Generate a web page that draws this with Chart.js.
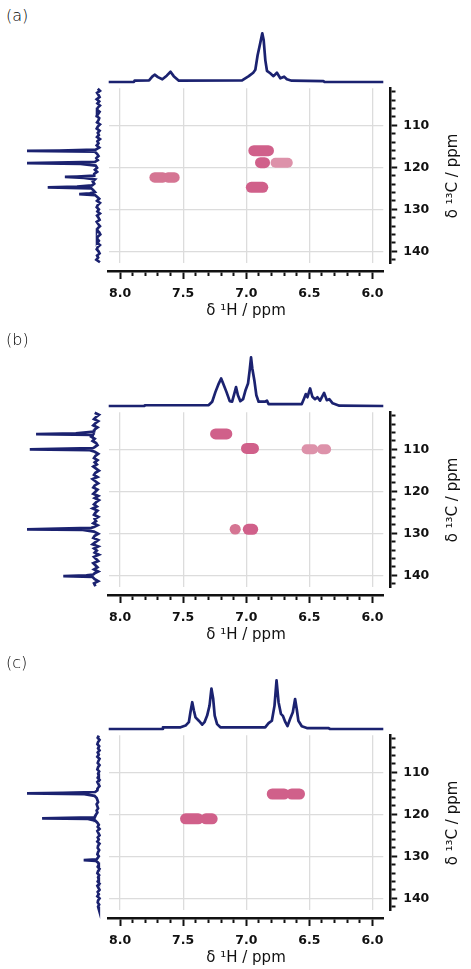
<!DOCTYPE html>
<html><head><meta charset="utf-8">
<script src="https://cdn.jsdelivr.net/npm/chart.js@4.4.1/dist/chart.umd.min.js"></script>
<style>
html,body{margin:0;padding:0;background:#fff;}
body{width:471px;height:969px;position:relative;overflow:hidden;font-family:'DejaVu Sans',sans-serif;color:#111;}
canvas{position:absolute;}
.plab{position:absolute;left:6px;font-size:16px;font-weight:200;line-height:20px;white-space:nowrap;color:#000;}
.ytitle{position:absolute;width:130px;height:20px;line-height:20px;font-size:15px;text-align:center;white-space:nowrap;transform:rotate(-90deg);transform-origin:50% 50%;color:#111;}
</style></head><body>
<script>
// ---------- panel labels ----------
const panelNames = ['(a)', '(b)', '(c)'];
const panelOffsets = [0, 324, 647];

// ---------- axis ranges and tick labels ----------
const hRange = [5.914, 8.09];
const cRange = [101.2, 142.8];
const hTickValues = [8.0, 7.5, 7.0, 6.5, 6.0];
const hTickLabels = ['8.0', '7.5', '7.0', '6.5', '6.0'];
const cTickValues = [110, 120, 130, 140];
const cTickLabels = ['110', '120', '130', '140'];
const hTitle = 'δ ¹H / ppm';
const cTitle = 'δ ¹³C / ppm';

// ---------- 1H projections (top): ppm and relative intensity ----------
const protonPpmA = [8.09, 7.89, 7.885, 7.77, 7.745, 7.726, 7.70, 7.665, 7.63, 7.60, 7.575, 7.534, 7.033, 6.98, 6.945, 6.928, 6.91, 6.889, 6.873, 6.862, 6.849, 6.836, 6.81, 6.784, 6.757, 6.73, 6.70, 6.678, 6.64, 6.389, 6.38, 5.914];
const protonIntA = [0.0, 0.0, 0.027, 0.035, 0.11, 0.15, 0.10, 0.055, 0.13, 0.21, 0.12, 0.027, 0.035, 0.12, 0.19, 0.25, 0.55, 0.80, 1.0, 0.86, 0.45, 0.23, 0.18, 0.12, 0.19, 0.076, 0.11, 0.055, 0.027, 0.02, 0.0, 0.0];

const protonPpmB = [8.09, 7.81, 7.80, 7.297, 7.27, 7.244, 7.218, 7.199, 7.183, 7.157, 7.131, 7.112, 7.094, 7.081, 7.066, 7.047, 7.025, 7.005, 6.986, 6.973, 6.962, 6.952, 6.936, 6.92, 6.902, 6.85, 6.836, 6.823, 6.56, 6.541, 6.528, 6.515, 6.494, 6.476, 6.455, 6.436, 6.415, 6.383, 6.362, 6.342, 6.315, 6.262, 5.914];
const protonIntB = [0.0, 0.0, 0.015, 0.02, 0.088, 0.29, 0.46, 0.565, 0.46, 0.29, 0.10, 0.088, 0.26, 0.39, 0.22, 0.10, 0.14, 0.33, 0.46, 0.73, 1.0, 0.77, 0.53, 0.22, 0.088, 0.088, 0.11, 0.04, 0.04, 0.16, 0.245, 0.18, 0.36, 0.19, 0.14, 0.18, 0.11, 0.27, 0.12, 0.14, 0.055, 0.006, 0.0];

const protonPpmC = [8.09, 7.665, 7.66, 7.52, 7.481, 7.455, 7.442, 7.428, 7.415, 7.402, 7.376, 7.349, 7.331, 7.31, 7.291, 7.276, 7.262, 7.25, 7.231, 7.205, 6.85, 6.823, 6.797, 6.776, 6.76, 6.744, 6.725, 6.71, 6.69, 6.673, 6.652, 6.631, 6.613, 6.6, 6.587, 6.56, 6.52, 6.35, 6.336, 5.914];
const protonIntC = [0.0, 0.0, 0.035, 0.035, 0.07, 0.14, 0.35, 0.55, 0.38, 0.24, 0.17, 0.09, 0.14, 0.275, 0.48, 0.83, 0.62, 0.275, 0.10, 0.035, 0.035, 0.12, 0.17, 0.48, 1.0, 0.55, 0.31, 0.27, 0.14, 0.06, 0.21, 0.345, 0.615, 0.41, 0.17, 0.055, 0.02, 0.02, 0.0, 0.0];

// ---------- 13C projections (left): [ppm, relative intensity] ----------
const carbonSpecA = [[101.3,0.01],[101.8,-0.02],[102.3,0.02],[102.8,0.0],[103.3,-0.015],[103.8,0.025],[104.3,-0.01],[104.8,0.015],[105.3,-0.02],[105.8,0.01],[106.3,0.02],[106.8,-0.015],[107.3,0.005],[107.8,0.025],[108.3,-0.01],[108.8,0.0],[109.3,0.02],[109.8,-0.02],[110.3,0.01],[110.8,0.025],[111.3,-0.015],[111.8,0.01],[112.3,-0.005],[112.8,0.02],[113.3,-0.02],[113.8,0.015],[114.3,0.0],[114.8,0.025],[115.3,-0.01],[115.8,0.04],[116.0,0.55],[116.1,1.0],[116.3,0.05],[116.8,0.02],[117.3,0.0],[117.8,0.03],[118.3,0.01],[118.7,0.05],[118.9,0.6],[119.0,1.0],[119.2,0.25],[119.6,0.04],[120.1,0.02],[120.6,0.05],[121.1,0.02],[121.6,0.06],[122.0,0.06],[122.2,0.3],[122.3,0.47],[122.5,0.2],[122.9,0.05],[123.4,0.08],[123.9,0.06],[124.3,0.09],[124.6,0.3],[124.8,0.71],[125.0,0.1],[125.5,0.07],[125.9,0.05],[126.2,0.12],[126.4,0.27],[126.6,0.05],[127.0,0.02],[127.5,-0.01],[128.0,0.02],[128.5,-0.02],[129.0,0.01],[129.5,0.025],[130.0,-0.005],[130.5,0.015],[131.0,-0.02],[131.5,0.02],[132.0,0.0],[132.5,-0.015],[133.0,0.025],[133.5,0.005],[134.0,-0.02],[134.5,0.01],[135.0,0.02],[135.5,-0.01],[136.0,-0.025],[136.5,0.01],[137.0,0.02],[137.5,-0.005],[138.0,0.015],[138.5,-0.02],[139.0,0.01],[139.5,0.025],[140.0,0.0],[140.5,-0.015],[141.0,0.02],[141.5,0.005],[142.0,0.03],[142.6,-0.02]];

const carbonSpecB = [[101.3,0.03],[101.8,-0.03],[102.3,0.01],[102.8,0.04],[103.3,-0.02],[103.8,0.02],[104.3,0.05],[104.8,-0.01],[105.3,0.03],[105.8,0.04],[106.2,0.3],[106.4,0.87],[106.6,0.06],[107.0,0.08],[107.5,0.03],[108.0,0.06],[108.5,0.01],[109.0,-0.01],[109.5,0.03],[109.7,0.05],[109.9,0.6],[110.0,0.96],[110.2,0.1],[110.6,0.03],[111.1,-0.02],[111.6,0.02],[112.1,0.04],[112.6,-0.01],[113.1,0.03],[113.6,0.0],[114.1,0.05],[114.6,0.01],[115.1,-0.03],[115.6,0.02],[116.1,0.04],[116.6,-0.01],[117.1,0.06],[117.6,0.02],[118.1,-0.02],[118.6,0.03],[119.1,0.05],[119.6,-0.01],[120.1,0.02],[120.6,0.05],[121.1,-0.02],[121.6,0.03],[122.1,-0.03],[122.6,0.01],[123.1,0.04],[123.6,0.0],[124.1,0.06],[124.6,-0.01],[125.1,0.02],[125.6,0.04],[126.1,-0.02],[126.6,0.03],[127.1,0.01],[127.6,0.05],[128.1,-0.01],[128.5,0.04],[128.7,0.08],[128.9,0.55],[129.05,1.0],[129.2,0.2],[129.6,0.04],[130.1,-0.02],[130.6,0.03],[131.1,0.05],[131.6,-0.02],[132.1,0.02],[132.6,0.06],[133.1,-0.02],[133.6,0.04],[134.1,0.0],[134.6,0.03],[135.1,-0.03],[135.6,0.04],[136.1,0.01],[136.6,-0.02],[137.1,0.05],[137.6,0.02],[138.1,-0.01],[138.6,0.04],[139.1,-0.02],[139.5,0.03],[139.8,0.05],[140.0,0.15],[140.2,0.48],[140.4,0.06],[140.9,0.03],[141.4,-0.02],[141.9,0.04],[142.6,0.02]];

const carbonSpecC = [[101.3,0.0],[101.8,0.015],[102.3,-0.01],[102.8,0.01],[103.3,0.02],[103.8,-0.005],[104.3,0.01],[104.8,-0.01],[105.3,0.015],[105.8,0.0],[106.3,0.02],[106.8,-0.01],[107.3,0.005],[107.8,0.015],[108.3,-0.01],[108.8,0.01],[109.3,0.02],[109.8,-0.005],[110.3,0.01],[110.8,0.0],[111.3,0.015],[111.8,-0.01],[112.3,0.02],[112.8,0.005],[113.3,-0.01],[113.8,0.015],[114.3,0.02],[114.7,0.05],[114.9,0.5],[115.0,1.0],[115.2,0.2],[115.6,0.06],[116.1,0.03],[116.6,0.02],[117.1,0.01],[117.6,0.03],[118.1,0.02],[118.6,0.01],[119.1,0.03],[119.6,0.02],[120.1,0.04],[120.5,0.05],[120.7,0.06],[120.85,0.45],[120.95,0.79],[121.1,0.15],[121.5,0.05],[122.0,0.02],[122.5,0.0],[123.0,0.015],[123.5,-0.01],[124.0,0.02],[124.5,0.005],[125.0,-0.01],[125.5,0.015],[126.0,0.0],[126.5,0.02],[127.0,-0.01],[127.5,0.01],[128.0,0.015],[128.5,-0.005],[129.0,0.01],[129.5,0.02],[130.0,0.0],[130.5,0.02],[130.7,0.03],[130.9,0.21],[131.1,0.04],[131.5,0.01],[132.0,0.0],[132.5,0.015],[133.0,-0.01],[133.5,0.01],[134.0,0.02],[134.5,-0.005],[135.0,0.01],[135.5,0.0],[136.0,0.015],[136.5,-0.01],[137.0,0.02],[137.5,0.005],[138.0,-0.01],[138.5,0.015],[139.0,0.0],[139.5,0.02],[140.0,-0.01],[140.5,0.01],[141.0,0.015],[141.5,-0.005],[142.0,0.01],[142.6,0.0]];

// ---------- HSQC cross peaks: 1H start, 1H end, 13C, tone (0 strong, 1 medium, 2 weak) ----------
const crossH1A = [7.726, 7.62, 6.940, 6.887, 6.768, 6.960];
const crossH2A = [7.66, 7.569, 6.824, 6.855, 6.671, 6.869];
const crossCA  = [122.4, 122.4, 116.05, 118.9, 118.9, 124.76];
const crossToneA = [1, 1, 0, 0, 2, 0];

const crossH1B = [7.243, 6.998, 6.522, 6.40, 7.09, 6.984];
const crossH2B = [7.154, 6.943, 6.47, 6.367, 7.085, 6.949];
const crossCB  = [106.35, 109.8, 110.0, 110.0, 129.05, 129.05];
const crossToneB = [0, 0, 2, 2, 1, 0];

const crossH1C = [7.481, 7.32, 6.794, 6.64];
const crossH2C = [7.38, 7.27, 6.70, 6.578];
const crossCC  = [121.07, 121.07, 115.17, 115.17];
const crossToneC = [0, 0, 0, 0];

// ---------- build ----------
const NAVY = '#1b2270';
const INK = '#111';
const GRID = '#dcdcdc';
const toneOuter = ['#d0608a', '#d57593', '#dd92aa'];
const toneOuterW = [11, 10.5, 10];
const toneInner = ['#c53d69', '#cb5179', '#d26f8f'];
const toneInnerW = [7, 6.5, 6];
const leftBase = [98.5, 96.8, 98.8];

const panels = [
  {hp: protonPpmA, hi: protonIntA, cs: carbonSpecA, x1: crossH1A, x2: crossH2A, xc: crossCA, xt: crossToneA},
  {hp: protonPpmB, hi: protonIntB, cs: carbonSpecB, x1: crossH1B, x2: crossH2B, xc: crossCB, xt: crossToneB},
  {hp: protonPpmC, hi: protonIntC, cs: carbonSpecC, x1: crossH1C, x2: crossH2C, xc: crossCC, xt: crossToneC}
];

const tickFont = {family: "'DejaVu Sans', sans-serif", size: 12.5, weight: 'bold'};
const near = (a, b) => Math.abs(a - b) < 1e-6;
const hLabel = v => { const i = hTickValues.findIndex(t => near(t, v)); return i >= 0 ? hTickLabels[i] : ''; };
const cLabel = v => { const i = cTickValues.findIndex(t => near(t, v)); return i >= 0 ? cTickLabels[i] : ''; };

function addCanvas(left, top, w, h) {
  const c = document.createElement('canvas');
  c.width = w; c.height = h;
  c.style.left = left + 'px'; c.style.top = top + 'px';
  c.style.width = w + 'px'; c.style.height = h + 'px';
  document.body.appendChild(c);
  return c;
}
function common(padding) {
  return {
    animation: false, responsive: false, maintainAspectRatio: false, events: [],
    layout: {padding},
    plugins: {legend: {display: false}, tooltip: {enabled: false}, title: {display: false}}
  };
}

panels.forEach((p, k) => {
  const off = panelOffsets[k];

  const lab = document.createElement('div');
  lab.className = 'plab'; lab.style.top = (6 + off) + 'px'; lab.textContent = panelNames[k];
  document.body.appendChild(lab);

  // top 1H projection
  new Chart(addCanvas(100, 24 + off, 292, 66), {
    type: 'line',
    data: {datasets: [{data: p.hp.map((x, i) => ({x, y: p.hi[i]})), borderColor: NAVY, borderWidth: 2.7,
      pointRadius: 0, tension: 0, clip: false, borderJoinStyle: 'round'}]},
    options: Object.assign(common({left: 8.7, right: 8.7, top: 9.3, bottom: 8}), {
      scales: {
        x: {type: 'linear', display: false, min: hRange[0], max: hRange[1], reverse: true},
        y: {type: 'linear', display: false, min: 0, max: 1}
      }
    })
  });

  // left 13C projection
  new Chart(addCanvas(14, 80 + off, 92, 192), {
    type: 'scatter',
    data: {datasets: [{data: p.cs.map(d => ({x: d[1], y: d[0]})), showLine: true, borderColor: NAVY,
      borderWidth: 2.7, pointRadius: 0, tension: 0, clip: false, borderJoinStyle: 'miter'}]},
    options: Object.assign(common({left: 13, right: 106 - leftBase[k], top: 8.3, bottom: 8.9}), {
      scales: {
        x: {type: 'linear', display: false, min: 0, max: 1, reverse: true},
        y: {type: 'linear', display: false, min: cRange[0], max: cRange[1], reverse: true}
      }
    })
  });

  // 2D HSQC map with grid
  const blobs = [];
  p.x1.forEach((h1, i) => {
    const t = p.xt[i];
    blobs.push({data: [{x: h1, y: p.xc[i]}, {x: p.x2[i], y: p.xc[i]}], borderColor: toneOuter[t],
      borderWidth: toneOuterW[t], borderCapStyle: 'round', pointRadius: 0, clip: false});
  });
  p.x1.forEach((h1, i) => {
    const t = p.xt[i];
    blobs.push({data: [{x: h1, y: p.xc[i]}, {x: p.x2[i], y: p.xc[i]}], borderColor: toneInner[t],
      borderWidth: toneInnerW[t], borderCapStyle: 'round', pointRadius: 0, clip: false});
  });
  new Chart(addCanvas(100, 80 + off, 292, 190), {
    type: 'line',
    data: {datasets: blobs},
    options: Object.assign(common({left: 8.7, right: 8.7, top: 8.3, bottom: 6.9}), {
      scales: {
        x: {type: 'linear', min: hRange[0], max: hRange[1], reverse: true, border: {display: false},
          grid: {color: GRID, lineWidth: 1.3, drawTicks: false}, ticks: {display: false, stepSize: 0.5, includeBounds: false},
          afterFit: s => { s.height = 0; s.paddingLeft = 0; s.paddingRight = 0; }},
        y: {type: 'linear', min: cRange[0], max: cRange[1], reverse: true, border: {display: false},
          grid: {color: GRID, lineWidth: 1.3, drawTicks: false}, ticks: {display: false, stepSize: 10, includeBounds: false},
          afterFit: s => { s.width = 0; s.paddingTop = 0; s.paddingBottom = 0; }}
      }
    })
  });

  // bottom 1H axis
  new Chart(addCanvas(100, 262 + off, 292, 62), {
    type: 'line',
    data: {datasets: []},
    options: Object.assign(common({left: 8.7, right: 8.7, top: 0, bottom: 0}), {
      scales: {
        x: {type: 'linear', position: 'bottom', min: hRange[0], max: hRange[1], reverse: true,
          border: {display: true, color: INK, width: 2.5},
          grid: {drawOnChartArea: false, drawTicks: true, tickLength: 7.5, tickWidth: 2, tickColor: INK,
            tickBorderDash: c => (c.tick && hLabel(c.tick.value) === '') ? [3.5, 60] : []},
          ticks: {stepSize: 0.1, includeBounds: false, autoSkip: false, maxRotation: 0, minRotation: 0, padding: 7,
            color: INK, font: tickFont, callback: v => hLabel(v)},
          title: {display: true, text: hTitle, color: INK, font: {family: "'DejaVu Sans', sans-serif", size: 15},
            padding: {top: 0, bottom: 3.5}},
          afterFit: s => { s.height = 52.5; s.paddingLeft = 0; s.paddingRight = 0; }},
        y: {type: 'linear', display: false, min: 0, max: 1}
      }
    })
  });

  // right 13C axis
  new Chart(addCanvas(384, 80 + off, 50, 192), {
    type: 'line',
    data: {datasets: []},
    options: Object.assign(common({left: 0, right: 0, top: 8.3, bottom: 8.9}), {
      scales: {
        x: {type: 'linear', display: false, min: 0, max: 1},
        y: {type: 'linear', position: 'right', min: cRange[0], max: cRange[1], reverse: true,
          border: {display: true, color: INK, width: 2.5},
          grid: {drawOnChartArea: false, drawTicks: true, tickLength: 6.5, tickWidth: 2, tickColor: INK,
            tickBorderDash: c => (c.tick && cLabel(c.tick.value) === '') ? [4, 60] : []},
          ticks: {stepSize: 2, includeBounds: false, autoSkip: false, padding: 6, color: INK, font: tickFont,
            callback: v => cLabel(v)},
          afterFit: s => { s.width = 43.3; s.paddingTop = 0; s.paddingBottom = 0; }}
      }
    })
  });

  const yt = document.createElement('div');
  yt.className = 'ytitle';
  yt.style.left = (451.5 - 65) + 'px';
  yt.style.top = (175.7 + off - 10) + 'px';
  yt.textContent = cTitle;
  document.body.appendChild(yt);
});
</script>
</body></html>
